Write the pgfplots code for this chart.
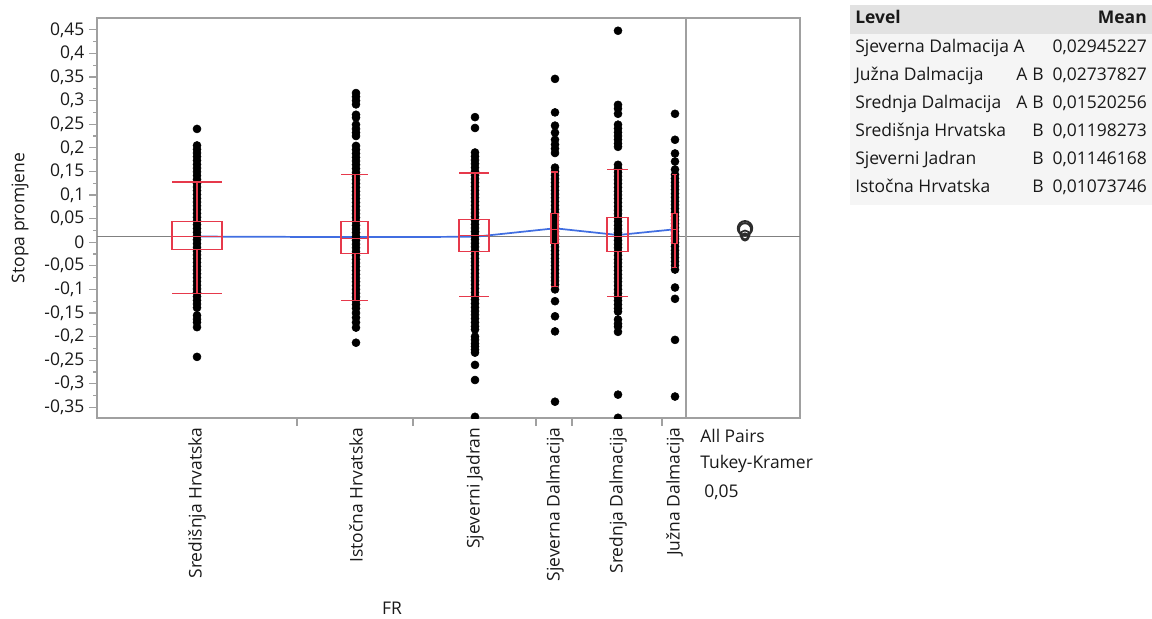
\documentclass[border=0pt]{standalone}
\usepackage{fontspec}
\setmainfont{Open Sans}
\usepackage{pgfplots}
\pgfplotsset{compat=1.18}
\definecolor{boxred}{RGB}{230,57,75}
\definecolor{meanblue}{RGB}{65,110,225}
\definecolor{framegray}{RGB}{160,160,160}
\definecolor{refgray}{RGB}{128,128,128}
\definecolor{hdrgray}{RGB}{226,226,226}
\definecolor{tblgray}{RGB}{245,245,245}
\definecolor{txt}{RGB}{25,25,25}
\definecolor{circ}{RGB}{45,45,45}
\newcommand\jf{\fontsize{13.1}{16}\selectfont}
% box: xl, xr, xc, q1, median, q3, whisker low, whisker high
\newcommand{\jmpbox}[8]{%
 \addplot[boxred, line width=1.15pt] coordinates {(#1,#4) (#2,#4) (#2,#6) (#1,#6) (#1,#4)};
 \addplot[boxred, line width=1.15pt] coordinates {(#1,#5) (#2,#5)};
 \addplot[boxred, line width=1.15pt] coordinates {(#3,#6) (#3,#8)};
 \addplot[boxred, line width=1.15pt] coordinates {(#3,#4) (#3,#7)};
 \addplot[boxred, line width=1.15pt] coordinates {(#1,#8) (#2,#8)};
 \addplot[boxred, line width=1.15pt] coordinates {(#1,#7) (#2,#7)};
}
\begin{document}
\begin{tikzpicture}
\useasboundingbox (0,0) rectangle (864pt,463.5pt);
\begin{axis}[
  at={(72.75pt,150pt)}, anchor=south west, scale only axis,
  width=527.25pt, height=300pt,
  xmin=97, xmax=800, ymin=-0.3725, ymax=0.475,
  axis line style={framegray, line width=0.9pt},
  tick align=outside, tick pos=left, major tick length=6pt, minor tick length=3pt,
  tick style={framegray, line width=0.8pt},
  ytick={-0.35,-0.3,-0.25,-0.2,-0.15,-0.1,-0.05,0,0.05,0.1,0.15,0.2,0.25,0.3,0.35,0.4,0.45},
  yticklabels={{-0,35},{-0,3},{-0,25},{-0,2},{-0,15},{-0,1},{-0,05},{0},{0,05},{0,1},{0,15},{0,2},{0,25},{0,3},{0,35},{0,4},{0,45}},
  minor y tick num=1,
  xtick={197,356,475,555,618,675},
  xticklabels={Središnja Hrvatska,Istočna Hrvatska,Sjeverni Jadran,Sjeverna Dalmacija,Srednja Dalmacija,Južna Dalmacija},
  xtick style={draw=none},
  xticklabel style={rotate=90, anchor=east, inner sep=1pt},
  extra x ticks={297,413,536,572,662},
  extra x tick labels={,,,,},
  extra x tick style={xtick style={draw=framegray, line width=0.8pt}},
  ticklabel style={font=\jf, text=txt},
  clip=true, clip marker paths=true,
]
% grand mean reference line
\addplot[refgray, line width=1pt] coordinates {(97,0.0125) (800,0.0125)};
% means line
\addplot[meanblue, line width=1.3pt] coordinates {(197,0.01198) (356,0.01074) (475,0.01146) (555,0.02945) (618,0.01520) (675,0.02738)};
% points
\addplot[only marks, mark=*, mark size=3pt, black] table[x expr=197, y index=0, header=false] {
0.240
0.205
0.197
0.189
0.181
0.173
0.165
0.157
0.149
0.141
0.133
0.125
0.117
0.109
0.101
0.093
0.085
0.077
0.069
0.061
0.053
0.045
0.037
0.029
0.021
0.013
0.005
-0.003
-0.011
-0.019
-0.027
-0.035
-0.043
-0.051
-0.059
-0.067
-0.075
-0.083
-0.091
-0.099
-0.107
-0.115
-0.123
-0.131
-0.139
-0.155
-0.163
-0.170
-0.180
-0.243
};
\addplot[only marks, mark=*, mark size=3pt, black] table[x expr=356, y index=0, header=false] {
0.316
0.308
0.300
0.292
0.270
0.264
0.249
0.240
0.232
0.225
0.204
0.196
0.188
0.180
0.172
0.164
0.156
0.148
0.140
0.132
0.124
0.116
0.108
0.100
0.092
0.084
0.076
0.068
0.060
0.052
0.044
0.036
0.028
0.020
0.012
0.004
-0.004
-0.012
-0.020
-0.028
-0.036
-0.044
-0.052
-0.060
-0.068
-0.076
-0.084
-0.092
-0.100
-0.108
-0.116
-0.124
-0.132
-0.140
-0.150
-0.160
-0.170
-0.181
-0.213
};
\addplot[only marks, mark=*, mark size=3pt, black] table[x expr=475, y index=0, header=false] {
0.265
0.242
0.190
0.182
0.174
0.166
0.158
0.150
0.142
0.134
0.126
0.118
0.110
0.102
0.094
0.086
0.078
0.070
0.062
0.054
0.046
0.038
0.030
0.022
0.014
0.006
-0.002
-0.010
-0.018
-0.026
-0.034
-0.042
-0.050
-0.058
-0.066
-0.074
-0.082
-0.090
-0.098
-0.106
-0.114
-0.122
-0.130
-0.138
-0.146
-0.154
-0.162
-0.170
-0.178
-0.185
-0.200
-0.207
-0.215
-0.221
-0.228
-0.234
-0.260
-0.292
-0.370
};
\addplot[only marks, mark=*, mark size=3pt, black] table[x expr=555, y index=0, header=false] {
0.346
0.275
0.247
0.232
0.217
0.207
0.198
0.189
0.158
0.150
0.142
0.134
0.126
0.118
0.110
0.102
0.094
0.086
0.078
0.070
0.062
0.054
0.046
0.038
0.030
0.022
0.014
0.006
-0.002
-0.010
-0.018
-0.026
-0.034
-0.042
-0.050
-0.058
-0.066
-0.074
-0.082
-0.090
-0.100
-0.125
-0.157
-0.189
-0.338
};
\addplot[only marks, mark=*, mark size=3pt, black] table[x expr=618, y index=0, header=false] {
0.448
0.291
0.283
0.272
0.249
0.241
0.233
0.225
0.217
0.209
0.202
0.164
0.156
0.148
0.140
0.132
0.124
0.116
0.108
0.100
0.092
0.084
0.076
0.068
0.060
0.052
0.044
0.036
0.028
0.020
0.012
0.004
-0.004
-0.012
-0.020
-0.028
-0.036
-0.044
-0.052
-0.060
-0.068
-0.076
-0.084
-0.092
-0.100
-0.108
-0.116
-0.124
-0.132
-0.140
-0.147
-0.164
-0.173
-0.179
-0.190
-0.323
-0.372
};
\addplot[only marks, mark=*, mark size=3pt, black] table[x expr=675, y index=0, header=false] {
0.272
0.217
0.188
0.171
0.154
0.143
0.135
0.127
0.119
0.111
0.103
0.095
0.087
0.079
0.071
0.063
0.055
0.047
0.039
0.031
0.023
0.015
0.007
-0.001
-0.009
-0.017
-0.025
-0.033
-0.041
-0.049
-0.058
-0.096
-0.120
-0.207
-0.327
};
% outlier box plots
\jmpbox{172}{222}{197}{-0.0159}{0.0117}{0.0434}{-0.109}{0.128}
\jmpbox{341}{368}{355}{-0.0244}{0.0074}{0.0434}{-0.124}{0.143}
\jmpbox{459}{489}{475}{-0.0201}{0.0138}{0.0477}{-0.115}{0.147}
\jmpbox{551}{558}{555}{-0.0032}{0.0265}{0.0604}{-0.094}{0.149}
\jmpbox{607}{628}{618}{-0.0201}{0.0117}{0.0519}{-0.115}{0.154}
\jmpbox{672}{677}{675}{-0.0032}{0.0265}{0.0604}{-0.054}{0.143}
% separator of comparison circles panel
\addplot[framegray, line width=0.9pt] coordinates {(686,-0.3725) (686,0.475)};
% comparison circles (Tukey-Kramer)
\addplot[only marks, mark=o, mark size=5.4pt, circ, mark options={line width=1.5pt}] coordinates {(745,0.02945)};
\addplot[only marks, mark=o, mark size=4.6pt, circ, mark options={line width=1.5pt}] coordinates {(745,0.02738)};
\addplot[only marks, mark=o, mark size=3.4pt, circ, mark options={line width=1.3pt}] coordinates {(745,0.01520)};
\addplot[only marks, mark=o, mark size=2.3pt, circ, mark options={line width=1.3pt}] coordinates {(745,0.01198)};
\addplot[only marks, mark=o, mark size=2.3pt, circ, mark options={line width=1.3pt}] coordinates {(745,0.01146)};
\addplot[only marks, mark=o, mark size=2.6pt, circ, mark options={line width=1.3pt}] coordinates {(745,0.01074)};
\end{axis}
% axis titles
\node[font=\jf, text=txt, rotate=90, anchor=center] at (15pt,300pt) {Stopa promjene};
\node[font=\jf, text=txt, anchor=center] at (294pt,7.5pt) {FR};
\node[font=\jf, text=txt, anchor=west, inner sep=0pt] at (525pt,136.5pt) {All Pairs};
\node[font=\jf, text=txt, anchor=west, inner sep=0pt] at (525pt,115.5pt) {Tukey-Kramer};
\node[font=\jf, text=txt, anchor=west, inner sep=0pt] at (528pt,94.5pt) {0,05};
% means table
\fill[tblgray] (637.5pt,309.75pt) rectangle (864pt,438pt);
\fill[hdrgray] (637.5pt,438pt) rectangle (864pt,459.75pt);
\begin{scope}[every node/.style={font=\jf, text=txt, inner sep=0pt, text height=1.55ex, text depth=0.45ex}]
\node[anchor=west] at (641.25pt,448.5pt) {\bfseries Level};
\node[anchor=east] at (860.25pt,448.5pt) {\bfseries Mean};
\node[anchor=west] at (641.25pt,426.75pt) {Sjeverna Dalmacija A};
\node[anchor=west] at (641.25pt,405.75pt) {Južna Dalmacija};
\node[anchor=west] at (641.25pt,384.75pt) {Srednja Dalmacija};
\node[anchor=west] at (641.25pt,363.75pt) {Središnja Hrvatska};
\node[anchor=west] at (641.25pt,342.75pt) {Sjeverni Jadran};
\node[anchor=west] at (641.25pt,321.75pt) {Istočna Hrvatska};
\node[anchor=center] at (766.5pt,405.75pt) {A};
\node[anchor=center] at (766.5pt,384.75pt) {A};
\node[anchor=center] at (778.5pt,405.75pt) {B};
\node[anchor=center] at (778.5pt,384.75pt) {B};
\node[anchor=center] at (778.5pt,363.75pt) {B};
\node[anchor=center] at (778.5pt,342.75pt) {B};
\node[anchor=center] at (778.5pt,321.75pt) {B};
\node[anchor=east] at (860.25pt,426.75pt) {0,02945227};
\node[anchor=east] at (860.25pt,405.75pt) {0,02737827};
\node[anchor=east] at (860.25pt,384.75pt) {0,01520256};
\node[anchor=east] at (860.25pt,363.75pt) {0,01198273};
\node[anchor=east] at (860.25pt,342.75pt) {0,01146168};
\node[anchor=east] at (860.25pt,321.75pt) {0,01073746};
\end{scope}
\end{tikzpicture}
\end{document}
